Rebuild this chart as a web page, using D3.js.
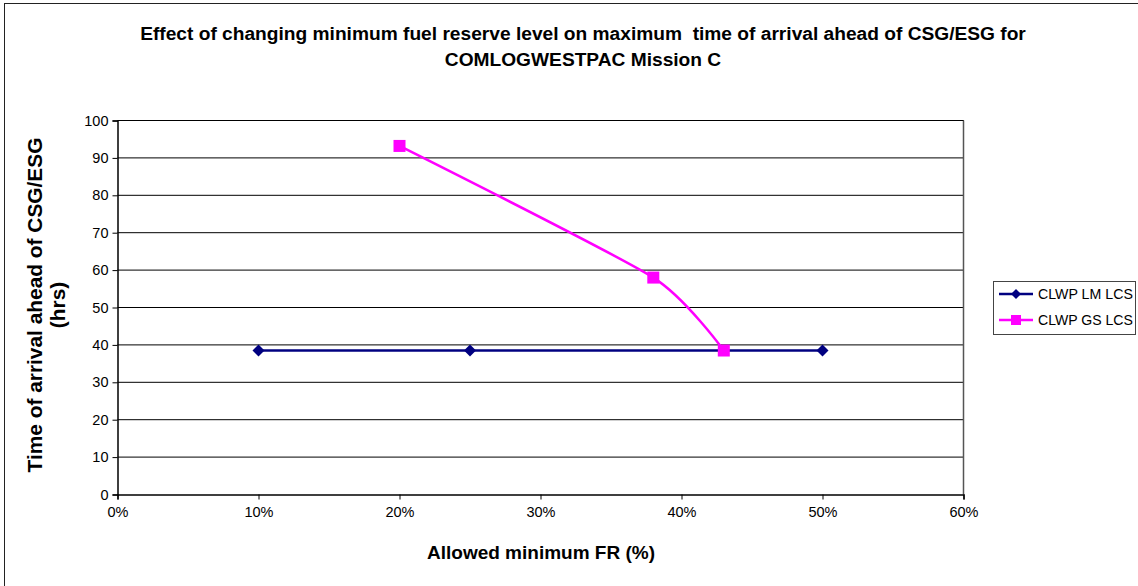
<!DOCTYPE html>
<html><head><meta charset="utf-8">
<script src="https://cdn.jsdelivr.net/npm/d3@7"></script>
<style>body{margin:0;background:#fff}svg{display:block}text{font-family:"Liberation Sans",Arial,sans-serif}</style>
</head><body>
<script>
const xTicks = [0, 0.1, 0.2, 0.3, 0.4, 0.5, 0.6];
const yTicks = [0, 10, 20, 30, 40, 50, 60, 70, 80, 90, 100];
const lmX = [0.10, 0.25, 0.50];
const lmY = [38.5, 38.5, 38.5];
const gsX = [0.20, 0.38, 0.43];
const gsY = [93.2, 58.0, 38.5];
const seriesNames = ["CLWP LM LCS", "CLWP GS LCS"];
const titleLines = ["Effect of changing minimum fuel reserve level on maximum  time of arrival ahead of CSG/ESG for", "COMLOGWESTPAC Mission C"];

const W = 1138, H = 586;
const svg = d3.select("body").append("svg").attr("width", W).attr("height", H);
svg.append("rect").attr("x", 4.5).attr("y", 3.5).attr("width", 1140).attr("height", 600)
  .attr("fill", "#fff").attr("stroke", "#222").attr("stroke-width", 1);

const L = 117.5, R = 963.5, T = 120.5, B = 494.5;
const x = d3.scaleLinear().domain([0, 0.6]).range([L, R]);
const y = d3.scaleLinear().domain([0, 100]).range([B, T]);

function fit(sel, target) {
  const w = sel.node().getComputedTextLength();
  const fs = +sel.attr("font-size");
  sel.attr("font-size", fs * target / w);
}

svg.append("g").selectAll("line").data(yTicks.filter(d => d > 0)).join("line")
  .attr("x1", L).attr("x2", R).attr("y1", d => y(d)).attr("y2", d => y(d))
  .attr("stroke", "#000").attr("stroke-width", 1);
svg.append("line").attr("x1", R).attr("x2", R).attr("y1", T).attr("y2", B).attr("stroke", "#555").attr("stroke-width", 1.5);
svg.append("line").attr("x1", L).attr("x2", R).attr("y1", T).attr("y2", T).attr("stroke", "#000").attr("stroke-width", 1);

const yAxis = d3.axisLeft(y).tickValues(yTicks).tickSize(5).tickPadding(4).tickFormat(d3.format("d"));
const gy = svg.append("g").attr("transform", `translate(${L},0)`).call(yAxis);
const xAxis = d3.axisBottom(x).tickValues(xTicks).tickSize(5).tickPadding(7).tickFormat(d3.format(".0%"));
const gx = svg.append("g").attr("transform", `translate(0,${B})`).call(xAxis);
[gx, gy].forEach(g => {
  g.select(".domain").attr("stroke", "#000").attr("stroke-width", 1.5);
  g.selectAll(".tick line").attr("stroke", "#000");
  g.selectAll(".tick text").attr("font-size", 14.5).attr("fill", "#000").style("font-family", "'Liberation Sans', Arial, sans-serif");
});

const lmData = lmX.map((v, i) => [v, lmY[i]]);
const gsData = gsX.map((v, i) => [v, gsY[i]]);
svg.append("path").datum(lmData)
  .attr("d", d3.line().x(d => x(d[0])).y(d => y(d[1])))
  .attr("fill", "none").attr("stroke", "#000080").attr("stroke-width", 2.5);
svg.append("g").selectAll("path").data(lmData).join("path")
  .attr("transform", d => `translate(${x(d[0])},${y(d[1])})`)
  .attr("d", "M0,-6L6,0L0,6L-6,0Z").attr("fill", "#000080");

svg.append("path").datum(gsData)
  .attr("d", d3.line().x(d => x(d[0])).y(d => y(d[1])).curve(d3.curveCardinal.tension(0.4)))
  .attr("fill", "none").attr("stroke", "#ff00ff").attr("stroke-width", 2.5);
svg.append("g").selectAll("rect").data(gsData).join("rect")
  .attr("x", d => x(d[0]) - 6).attr("y", d => y(d[1]) - 6).attr("width", 12).attr("height", 12)
  .attr("fill", "#ff00ff");

const t1 = svg.append("text").attr("x", 583).attr("y", 40).attr("text-anchor", "middle")
  .attr("font-weight", "bold").attr("font-size", 15).attr("fill", "#000").style("white-space", "pre").text(titleLines[0]);
fit(t1, 886);
svg.append("text").attr("x", 583).attr("y", 66).attr("text-anchor", "middle")
  .attr("font-weight", "bold").attr("font-size", t1.attr("font-size")).attr("fill", "#000").text(titleLines[1]);

const xt = svg.append("text").attr("x", 541).attr("y", 559).attr("text-anchor", "middle")
  .attr("font-weight", "bold").attr("font-size", 16).text("Allowed minimum FR (%)");
fit(xt, 228);
const yt1 = svg.append("text").attr("transform", "translate(42,305) rotate(-90)").attr("text-anchor", "middle")
  .attr("font-weight", "bold").attr("font-size", 16).text("Time of arrival ahead of CSG/ESG");
fit(yt1, 335);
svg.append("text").attr("transform", "translate(65,305) rotate(-90)").attr("text-anchor", "middle")
  .attr("font-weight", "bold").attr("font-size", yt1.attr("font-size")).text("(hrs)");

svg.append("rect").attr("x", 993.5).attr("y", 281.5).attr("width", 142).attr("height", 53)
  .attr("fill", "#fff").attr("stroke", "#444").attr("stroke-width", 1);
const colors = ["#000080", "#ff00ff"];
seriesNames.forEach((n, i) => {
  const yy = 294 + i * 26;
  svg.append("line").attr("x1", 999).attr("x2", 1033).attr("y1", yy).attr("y2", yy)
    .attr("stroke", colors[i]).attr("stroke-width", 2.5);
  if (i === 0) svg.append("path").attr("transform", `translate(1016,${yy})`).attr("d", "M0,-5L5,0L0,5L-5,0Z").attr("fill", colors[i]);
  else svg.append("rect").attr("x", 1011).attr("y", yy - 5).attr("width", 10).attr("height", 10).attr("fill", colors[i]);
  const lt = svg.append("text").attr("x", 1038).attr("y", yy + 5).attr("font-size", 14).attr("fill", "#000").text(n);
  fit(lt, 95);
});
</script>
</body></html>
